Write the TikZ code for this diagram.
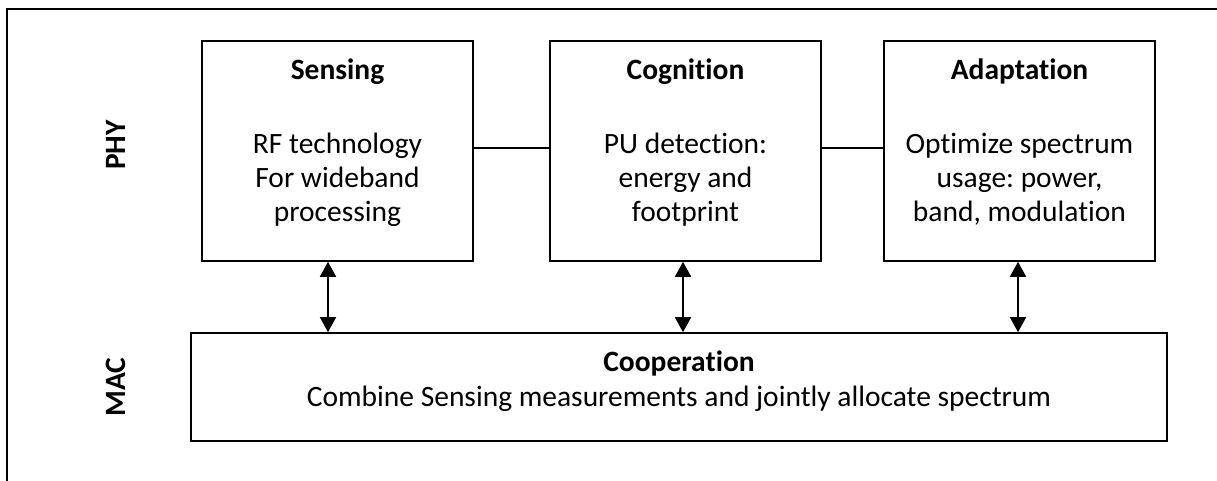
\documentclass[tikz,border=0pt]{standalone}
\usepackage{fontspec}
\setmainfont{Carlito}[Ligatures=NoCommon]
\frenchspacing
\usetikzlibrary{arrows.meta}
\tikzset{
  blk/.style={draw, line width=1.6pt, minimum height=220pt, inner sep=0pt},
  coopbox/.style={draw, line width=1.6pt, inner sep=0pt},
  ttl/.style={anchor=base, inner sep=0pt, font=\fontsize{29.5}{34.5}\selectfont\bfseries},
  bodytxt/.style={anchor=base, inner sep=0pt, align=center, font=\fontsize{29.5}{34.5}\selectfont},
  lyr/.style={inner sep=0pt, rotate=90, font=\fontsize{29.5}{34.5}\selectfont\bfseries},
  link/.style={line width=1.6pt},
  dbl/.style={line width=1.6pt, {Triangle[width=16pt,length=15pt]}-{Triangle[width=16pt,length=15pt]}}
}
\begin{document}
\begin{tikzpicture}[x=1pt, y=-1pt]
\useasboundingbox (0,0) rectangle (1217,481);
\fill[white] (0,0) rectangle (1217,481);
% outer frame (open at right and bottom)
\draw[line width=1.6pt] (7,481) -- (7,9) -- (1217,9);

% layer labels
\node[lyr] (phy) at (116,145) {PHY};
\node[lyr] (mac) at (116,387) {MAC};

% PHY boxes
\node[blk, minimum width=271pt] (sens) at (337.5,151) {};
\node[blk, minimum width=271pt] (cogn) at (685.5,151) {};
\node[blk, minimum width=271pt] (adap) at (1019.5,151) {};

\node[ttl] (sensT) at (337.5,80) {Sensing};
\node[bodytxt] (sensB) at (337.5,222) {RF technology\\For wideband\\processing};
\node[ttl] (cognT) at (685.5,80) {Cognition};
\node[bodytxt] (cognB) at (685.5,222) {PU detection:\\energy and\\footprint};
\node[ttl] (adapT) at (1019.5,80) {Adaptation};
\node[bodytxt] (adapB) at (1019.5,222) {Optimize spectrum\\usage: power,\\band, modulation};

% MAC box
\node[coopbox, minimum width=976pt, minimum height=108pt] (coop) at (679,387) {};
\node[ttl] (coopT) at (679,371) {Cooperation};
\node[bodytxt] (coopB) at (679,406) {Combine Sensing measurements and jointly allocate spectrum};

% horizontal links
\draw[link] ([yshift=3pt]sens.east) -- ([yshift=3pt]cogn.west);
\draw[link] ([yshift=3pt]cogn.east) -- ([yshift=3pt]adap.west);

% vertical double arrows
\draw[dbl] ([xshift=-9.5pt]sens.south) -- ([xshift=-9.5pt]sens.south |- coop.north);
\draw[dbl] ([xshift=-2.5pt]cogn.south) -- ([xshift=-2.5pt]cogn.south |- coop.north);
\draw[dbl] ([xshift=-1.5pt]adap.south) -- ([xshift=-1.5pt]adap.south |- coop.north);
\end{tikzpicture}
\end{document}
